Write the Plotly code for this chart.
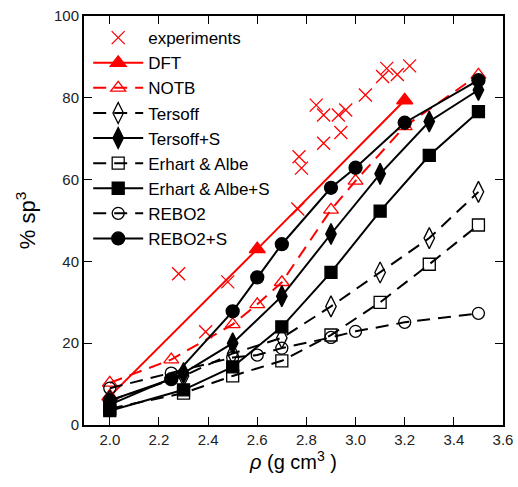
import plotly.graph_objects as go

# ---- data ----
exp_x = [2.28, 2.39, 2.48, 2.765, 2.77, 2.78, 2.84, 2.87, 2.87, 2.93, 2.94, 2.96, 3.04, 3.11, 3.127, 3.17, 3.22]
exp_y = [37.0, 22.8, 35.0, 52.8, 65.6, 62.8, 78.2, 75.8, 68.9, 75.8, 71.5, 77.0, 80.7, 85.2, 87.2, 85.7, 87.8]

dft_x = [2.0, 2.6, 3.2]
dft_y = [7.0, 43.0, 79.4]

notb_x = [2.0, 2.25, 2.5, 2.6, 2.7, 2.9, 3.0, 3.2, 3.5]
notb_y = [10.3, 16.0, 24.6, 29.5, 34.9, 52.6, 59.7, 73.0, 85.6]

ters_x = [2.0, 2.3, 2.5, 2.7, 2.9, 3.1, 3.3, 3.5]
ters_y = [6.0, 12.0, 17.5, 21.3, 29.0, 37.3, 45.7, 57.0]
terss_y = [5.0, 12.7, 20.0, 31.5, 46.7, 61.4, 74.2, 81.9]

ea_x = [2.0, 2.3, 2.5, 2.7, 2.9, 3.1, 3.3, 3.5]
ea_y = [4.0, 7.8, 12.0, 15.7, 22.0, 30.0, 39.3, 48.9]
eas_y = [3.5, 8.6, 14.2, 24.0, 37.3, 52.3, 65.9, 76.6]

rebo_x = [2.0, 2.25, 2.5, 2.6, 2.7, 2.9, 3.0, 3.2, 3.5]
rebo_y = [9.0, 12.7, 16.5, 17.1, 18.8, 21.4, 22.9, 25.1, 27.3]
rebos_y = [6.0, 11.2, 27.8, 36.1, 44.2, 58.0, 62.9, 73.9, 84.3]

x_ticks = [2.0, 2.2, 2.4, 2.6, 2.8, 3.0, 3.2, 3.4, 3.6]
y_ticks = [0, 20, 40, 60, 80, 100]

RED = "#ff0000"
BLK = "#000000"
DASH = "13px,8px"
FONT = "Liberation Sans, Arial, sans-serif"

fig = go.Figure()

def add(name, x, y, color, symbol, size, dash=None, mode="lines+markers", lw=2):
    fig.add_trace(go.Scatter(
        x=x, y=y, name=name, mode=mode,
        line=dict(color=color, width=lw, dash=dash) if "lines" in mode else None,
        marker=dict(symbol=symbol, size=size, color=color,
                    line=dict(color=color, width=1.3)),
    ))

add("experiments", exp_x, exp_y, RED, "x-thin-open", 13, mode="markers")
add("DFT", dft_x, dft_y, RED, "triangle-up", 14)
add("NOTB", notb_x, notb_y, RED, "triangle-up-open", 13, dash=DASH)
add("Tersoff", ters_x, ters_y, BLK, "diamond-tall-open", 15, dash=DASH)
add("Tersoff+S", ters_x, terss_y, BLK, "diamond-tall", 15)
add("Erhart & Albe", ea_x, ea_y, BLK, "square-open", 12, dash=DASH)
add("Erhart & Albe+S", ea_x, eas_y, BLK, "square", 12)
add("REBO2", rebo_x, rebo_y, BLK, "circle-open", 12, dash=DASH)
add("REBO2+S", rebo_x, rebos_y, BLK, "circle", 13)

axis_common = dict(
    showline=True, linecolor=BLK, linewidth=2, mirror="ticks",
    ticks="inside", ticklen=8, tickwidth=1.2, tickcolor=BLK,
    showgrid=False, zeroline=False, automargin=False,
    tickfont=dict(family=FONT, size=15, color="#222"),
)

fig.update_layout(
    width=518, height=487,
    margin=dict(l=84, r=15, t=16, b=62),
    paper_bgcolor="white", plot_bgcolor="white",
    font=dict(family=FONT, color=BLK),
    xaxis=dict(range=[1.895, 3.6], tickvals=x_ticks,
               ticktext=[f"{v:.1f}" for v in x_ticks],
               title=dict(text="<i>ρ</i> (g cm<sup>3</sup> )", font=dict(size=20), standoff=8),
               **axis_common),
    yaxis=dict(range=[0, 100], tickvals=y_ticks,
               title=dict(text="% sp<sup>3</sup>", font=dict(size=22), standoff=12),
               **axis_common),
    legend=dict(x=0.01, y=0.99, xanchor="left", yanchor="top",
                bgcolor="rgba(0,0,0,0)", font=dict(size=17, color=BLK),
                tracegroupgap=0, itemwidth=50),
    showlegend=True,
)

fig.write_html("out.html")
